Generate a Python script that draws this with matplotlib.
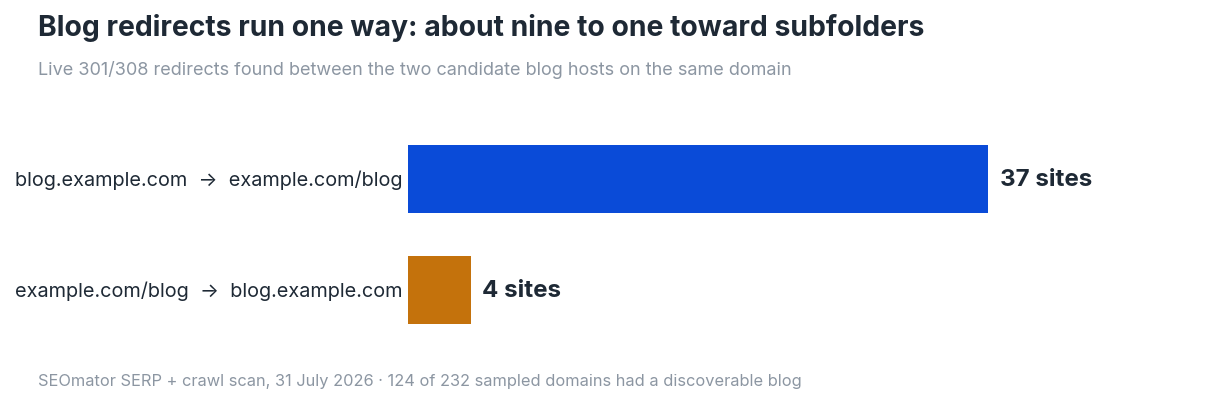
import matplotlib.pyplot as plt

plt.rcParams['font.family'] = ['Inter', 'DejaVu Sans']

# data
routes = ['blog.example.com  \u2192  example.com/blog',
          'example.com/blog  \u2192  blog.example.com']
counts = [37, 4]
bar_colors = ['#0a4bd8', '#c4720c']

title = 'Blog redirects run one way: about nine to one toward subfolders'
subtitle = 'Live 301/308 redirects found between the two candidate blog hosts on the same domain'
footnote = ('SEOmator SERP + crawl scan, 31 July 2026 \u00b7 124 of 232 sampled domains '
            'had a discoverable blog')

W, H = 1219, 402
fig = plt.figure(figsize=(W / 100, H / 100), dpi=100)
ax = fig.add_axes([408 / W, (H - 346.5) / H, 784 / W, 222 / H])

ypos = list(range(len(counts)))
ax.barh(ypos, counts, height=0.613, color=bar_colors)
ax.set_xlim(0, 50)
ax.set_ylim(1.5, -0.5)
ax.axis('off')

for y, c, lab in zip(ypos, counts, routes):
    ax.text(c + 0.75, y, f'{c} sites', va='center', ha='left',
            fontsize=17.4, fontweight='bold', color='#1e2935')
    ax.text(-0.38, y, lab, va='center', ha='right', fontsize=14.3, color='#1e2935')

fig.text(38 / W, 1 - 28 / H, title, fontsize=20.4, fontweight='bold',
         color='#1e2935', va='center', ha='left')
fig.text(38 / W, 1 - 70 / H, subtitle, fontsize=13, color='#8c96a2',
         va='center', ha='left')
fig.text(38 / W, 1 - 382 / H, footnote, fontsize=11.8, color='#8c96a2',
         va='center', ha='left')

fig.savefig('out.png', dpi=100)
